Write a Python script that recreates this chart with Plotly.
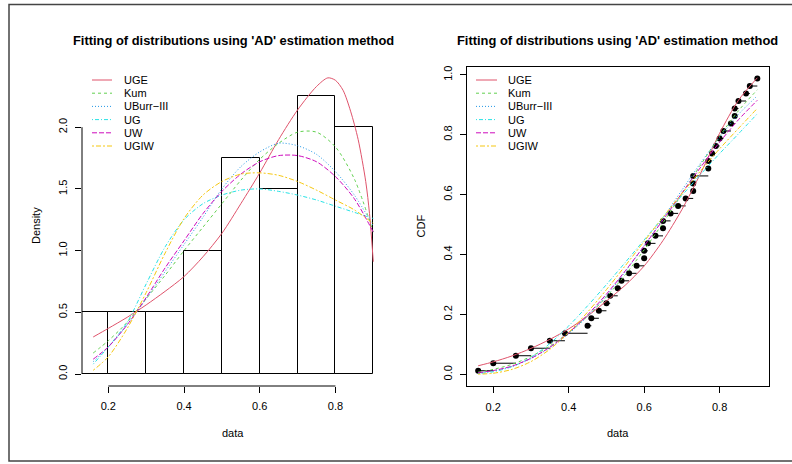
import plotly.graph_objects as go

# ---------------- data ----------------
obs = [0.16, 0.20, 0.26, 0.30, 0.35, 0.39, 0.45, 0.46, 0.48, 0.50,
       0.51, 0.53, 0.54, 0.56, 0.58, 0.60, 0.60, 0.61, 0.63, 0.65,
       0.65, 0.67, 0.69, 0.71, 0.73, 0.73, 0.73, 0.77, 0.77, 0.78,
       0.79, 0.80, 0.81, 0.83, 0.84, 0.84, 0.85, 0.87, 0.88, 0.90]

bin_edges = [0.1, 0.2, 0.3, 0.4, 0.5, 0.6, 0.7, 0.8, 0.9]
hist_density = [0.5, 0.5, 0.5, 1.0, 1.75, 1.5, 2.25, 2.0]

dist_names = ["UGE", "Kum", "UBurr\u2212III", "UG", "UW", "UGIW"]
colors = ["#DF536B", "#61D04F", "#2297E6", "#28E2E5", "#CD0BBC", "#F5C710"]

grid = [0.16, 0.20, 0.25, 0.30, 0.35, 0.40, 0.45, 0.50, 0.55, 0.60,
        0.65, 0.70, 0.75, 0.80, 0.85, 0.90]
grid_uge = [0.16, 0.20, 0.25, 0.30, 0.35, 0.40, 0.45, 0.50, 0.55, 0.60,
            0.65, 0.70, 0.75, 0.78, 0.80, 0.82, 0.84, 0.86, 0.88, 0.89, 0.90]

dens_uge = [0.30, 0.37, 0.46, 0.56, 0.67, 0.79, 0.95, 1.14, 1.38, 1.63,
            1.90, 2.14, 2.33, 2.40, 2.38, 2.30, 2.13, 1.90, 1.56, 1.30, 0.91]
dens_kum = [0.17, 0.27, 0.42, 0.61, 0.80, 1.00, 1.19, 1.38, 1.57, 1.74,
            1.87, 1.96, 1.96, 1.84, 1.58, 1.15]
dens_uburr = [0.10, 0.22, 0.40, 0.61, 0.83, 1.05, 1.27, 1.50, 1.68, 1.80,
              1.87, 1.85, 1.78, 1.64, 1.45, 1.20]
dens_ug = [0.08, 0.22, 0.42, 0.73, 1.03, 1.25, 1.38, 1.45, 1.49, 1.50,
           1.48, 1.45, 1.41, 1.36, 1.31, 1.26]
dens_uw = [0.12, 0.22, 0.40, 0.62, 0.86, 1.08, 1.30, 1.48, 1.62, 1.72,
           1.77, 1.77, 1.72, 1.60, 1.42, 1.15]
dens_ugiw = [0.03, 0.14, 0.37, 0.66, 0.98, 1.26, 1.45, 1.56, 1.62, 1.63,
             1.61, 1.56, 1.49, 1.41, 1.33, 1.22]

cdf_uge = [0.029, 0.042, 0.062, 0.087, 0.117, 0.152, 0.195, 0.245, 0.298, 0.362,
           0.447, 0.550, 0.672, 0.805, 0.915, 0.990]
cdf_kum = [0.008, 0.017, 0.034, 0.060, 0.095, 0.140, 0.195, 0.259, 0.333, 0.416,
           0.506, 0.602, 0.700, 0.795, 0.880, 0.950]
cdf_uburr = [0.005, 0.012, 0.027, 0.053, 0.089, 0.136, 0.194, 0.263, 0.343, 0.430,
             0.522, 0.615, 0.706, 0.791, 0.868, 0.930]
cdf_ug = [0.003, 0.009, 0.026, 0.057, 0.103, 0.162, 0.229, 0.300, 0.374, 0.449,
          0.524, 0.597, 0.668, 0.737, 0.803, 0.870]
cdf_uw = [0.006, 0.013, 0.028, 0.054, 0.091, 0.139, 0.199, 0.268, 0.346, 0.429,
          0.516, 0.605, 0.692, 0.775, 0.850, 0.915]
cdf_ugiw = [0.001, 0.004, 0.017, 0.043, 0.084, 0.140, 0.208, 0.283, 0.363, 0.444,
            0.525, 0.604, 0.680, 0.753, 0.821, 0.888]

x_ticks = [0.2, 0.4, 0.6, 0.8]
dens_ticks = [0.0, 0.5, 1.0, 1.5, 2.0]
cdf_ticks = [0.0, 0.2, 0.4, 0.6, 0.8, 1.0]

title_text = "Fitting of distributions using 'AD' estimation method"

# ---------------- styling ----------------
W, H = 792, 464
FONT = "Liberation Sans, Arial, Helvetica, sans-serif"
dashes = ["solid", "3px,3px", "1px,2px", "1px,2px,4px,2px", "5px,2px", "2px,2px,5px,2px"]

def fx(p):
    return p / W

def fy(p):
    return 1 - p / H

dens_x = [grid_uge, grid, grid, grid, grid, grid]
dens_y = [dens_uge, dens_kum, dens_uburr, dens_ug, dens_uw, dens_ugiw]
cdf_y = [cdf_uge, cdf_kum, cdf_uburr, cdf_ug, cdf_uw, cdf_ugiw]

fig = go.Figure()

# histogram bars
mids = [(a + b) / 2 for a, b in zip(bin_edges[:-1], bin_edges[1:])]
widths = [b - a for a, b in zip(bin_edges[:-1], bin_edges[1:])]
fig.add_trace(go.Bar(x=mids, y=hist_density, width=widths,
                     marker=dict(color="rgba(0,0,0,0)", line=dict(color="black", width=1)),
                     xaxis="x", yaxis="y", showlegend=False, hoverinfo="skip"))

for xs, ys, c, d, n in zip(dens_x, dens_y, colors, dashes, dist_names):
    fig.add_trace(go.Scatter(x=xs, y=ys, mode="lines", name=n,
                             line=dict(color=c, width=1, dash=d, shape="spline", smoothing=0.8),
                             xaxis="x", yaxis="y", showlegend=False))

# ECDF
n = len(obs)
pp = [(i + 0.5) / n for i in range(n)]
seg_x, seg_y = [], []
for i in range(n - 1):
    seg_x += [obs[i], obs[i + 1], None]
    seg_y += [pp[i], pp[i], None]
fig.add_trace(go.Scatter(x=seg_x, y=seg_y, mode="lines", line=dict(color="black", width=1),
                         xaxis="x2", yaxis="y2", showlegend=False, hoverinfo="skip"))
fig.add_trace(go.Scatter(x=obs, y=pp, mode="markers", marker=dict(color="black", size=6),
                         xaxis="x2", yaxis="y2", showlegend=False))

for ys, c, d, nm in zip(cdf_y, colors, dashes, dist_names):
    fig.add_trace(go.Scatter(x=grid, y=ys, mode="lines", name=nm,
                             line=dict(color=c, width=1, dash=d, shape="spline", smoothing=0.8),
                             xaxis="x2", yaxis="y2", showlegend=False))

tickfont = dict(family=FONT, size=11, color="black")

# left panel pixel geometry
L_x0, L_x1 = 82, 384.5
L_y0, L_y1 = 66, 386
# right panel
R_x0, R_x1 = 467, 768.5
R_y0, R_y1 = 66.7, 386.3

fig.update_layout(
    width=W, height=H, margin=dict(l=0, r=0, t=0, b=0),
    paper_bgcolor="white", plot_bgcolor="white",
    bargap=0,
    xaxis=dict(domain=[fx(L_x0), fx(L_x1)], range=[0.1304, 0.9296], anchor="y",
               tickvals=x_ticks, ticktext=[f"{v:.1f}" for v in x_ticks],
               ticks="outside", ticklen=6, tickcolor="black", tickwidth=1,
               showgrid=False, zeroline=False, showline=False, tickfont=tickfont,
               ticklabelstandoff=4),
    yaxis=dict(domain=[fy(L_y1), fy(L_y0)], range=[-0.0972, 2.496], anchor="x",
               tickvals=dens_ticks, ticktext=[f"{v:.1f}" for v in dens_ticks],
               ticks="outside", ticklen=6, tickcolor="black", tickwidth=1,
               showgrid=False, zeroline=False, showline=False, tickfont=tickfont,
               tickangle=-90, ticklabelstandoff=4),
    xaxis2=dict(domain=[fx(R_x0), fx(R_x1)], range=[0.1304, 0.9296], anchor="y2",
                tickvals=x_ticks, ticktext=[f"{v:.1f}" for v in x_ticks],
                ticks="outside", ticklen=6, tickcolor="black", tickwidth=1,
                showgrid=False, zeroline=False, showline=True, linecolor="black",
                linewidth=1, mirror=True, tickfont=tickfont, ticklabelstandoff=4),
    yaxis2=dict(domain=[fy(R_y1), fy(R_y0)], range=[-0.0395, 1.027], anchor="x2",
                tickvals=cdf_ticks, ticktext=[f"{v:.1f}" for v in cdf_ticks],
                ticks="outside", ticklen=6, tickcolor="black", tickwidth=1,
                showgrid=False, zeroline=False, showline=True, linecolor="black",
                linewidth=1, mirror=True, tickfont=tickfont, tickangle=-90,
                ticklabelstandoff=4),
)

shapes = []
# R-style axis lines for the left panel (span first to last tick)
shapes.append(dict(type="line", xref="x domain", yref="y", x0=0, x1=0,
                   y0=dens_ticks[0], y1=dens_ticks[-1], line=dict(color="black", width=1)))
shapes.append(dict(type="line", xref="x", yref="y domain", x0=x_ticks[0], x1=x_ticks[-1],
                   y0=0, y1=0, line=dict(color="black", width=1)))
# outer frame
shapes.append(dict(type="rect", xref="paper", yref="paper", x0=fx(9), x1=1.05,
                   y0=fy(461), y1=fy(4.5), line=dict(color="#444444", width=1.5)))

annotations = []
for cx in [(L_x0 + L_x1) / 2, (R_x0 + R_x1) / 2]:
    annotations.append(dict(text=f"<b>{title_text}</b>", x=fx(cx), y=fy(40), xref="paper", yref="paper",
                            showarrow=False, xanchor="center", yanchor="middle",
                            font=dict(family=FONT, size=12.9, color="black")))
    annotations.append(dict(text="data", x=fx(cx), y=fy(433), xref="paper", yref="paper",
                            showarrow=False, xanchor="center", yanchor="middle",
                            font=dict(family=FONT, size=11, color="black")))
annotations.append(dict(text="Density", x=fx(36), y=fy((L_y0 + L_y1) / 2), xref="paper", yref="paper",
                        showarrow=False, textangle=-90, xanchor="center", yanchor="middle",
                        font=dict(family=FONT, size=11, color="black")))
annotations.append(dict(text="CDF", x=fx(420), y=fy((R_y0 + R_y1) / 2), xref="paper", yref="paper",
                        showarrow=False, textangle=-90, xanchor="center", yanchor="middle",
                        font=dict(family=FONT, size=11, color="black")))

# legends (no box)
row_y = [80 + 13.2 * i for i in range(len(dist_names))]
for lx0, lx1, tx in [(92, 112, 122), (476, 497, 506)]:
    for yy, c, d, nm in zip(row_y, colors, dashes, dist_names):
        shapes.append(dict(type="line", xref="paper", yref="paper", x0=fx(lx0), x1=fx(lx1),
                           y0=fy(yy), y1=fy(yy), line=dict(color=c, width=1, dash=d)))
        annotations.append(dict(text=nm, x=fx(tx), y=fy(yy), xref="paper", yref="paper",
                                showarrow=False, xanchor="left", yanchor="middle",
                                font=dict(family=FONT, size=11, color="black")))

fig.update_layout(shapes=shapes, annotations=annotations)

fig.write_html("out.html")
